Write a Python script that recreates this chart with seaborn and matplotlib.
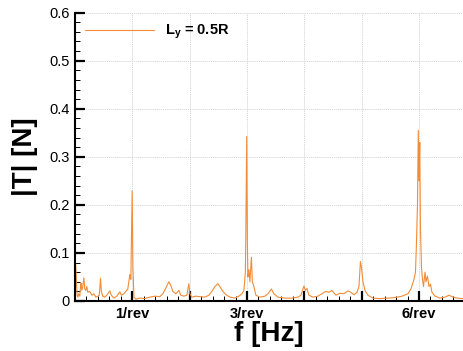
import numpy as np
import pandas as pd
import seaborn as sns
import matplotlib.pyplot as plt
from matplotlib.ticker import MultipleLocator, FixedLocator

# harmonic order (multiples of rotor frequency)
harmonicOrder = [
    0.000, 0.010, 0.023, 0.037, 0.049, 0.066, 0.084, 0.096, 0.106, 0.119,
    0.136, 0.154, 0.171, 0.188, 0.206, 0.223, 0.258, 0.293, 0.328, 0.363,
    0.398, 0.424, 0.445, 0.459, 0.485, 0.520, 0.555, 0.607, 0.634, 0.677,
    0.729, 0.782, 0.808, 0.852, 0.887, 0.921, 0.956, 0.974, 0.997, 1.010,
    1.028, 1.061, 1.131, 1.218, 1.305, 1.393, 1.480, 1.532, 1.585, 1.637,
    1.672, 1.707, 1.759, 1.812, 1.846, 1.899, 1.951, 1.986, 2.003, 2.038,
    2.108, 2.178, 2.265, 2.335, 2.387, 2.440, 2.492, 2.527, 2.579, 2.632,
    2.702, 2.789, 2.859, 2.911, 2.946, 2.972, 2.981, 2.995, 3.007, 3.016,
    3.033, 3.051, 3.077, 3.094, 3.120, 3.155, 3.225, 3.312, 3.365, 3.426,
    3.469, 3.539, 3.661, 3.784, 3.888, 3.941, 3.976, 3.993, 4.019, 4.045,
    4.080, 4.150, 4.237, 4.307, 4.377, 4.429, 4.482, 4.551, 4.621, 4.691,
    4.761, 4.813, 4.866, 4.918, 4.953, 4.979, 4.997, 5.023, 5.058, 5.110,
    5.197, 5.319, 5.442, 5.581, 5.703, 5.808, 5.860, 5.913, 5.939, 5.956,
    5.974, 5.988, 6.000, 6.014, 6.026, 6.044, 6.061, 6.079, 6.105, 6.122,
    6.148, 6.175, 6.201, 6.227, 6.279, 6.367, 6.454, 6.524, 6.576, 6.663,
    6.768,
]

thrustAmplitude = [
    0.075, 0.080, 0.045, 0.012, 0.008, 0.015, 0.010, 0.030, 0.037, 0.022,
    0.030, 0.048, 0.025, 0.022, 0.030, 0.018, 0.020, 0.012, 0.015, 0.008,
    0.010, 0.012, 0.047, 0.020, 0.010, 0.008, 0.012, 0.021, 0.012, 0.006,
    0.010, 0.019, 0.012, 0.015, 0.020, 0.025, 0.055, 0.045, 0.229, 0.070,
    0.008, 0.004, 0.006, 0.005, 0.008, 0.010, 0.009, 0.015, 0.027, 0.040,
    0.032, 0.020, 0.015, 0.022, 0.012, 0.010, 0.012, 0.036, 0.015, 0.008,
    0.010, 0.009, 0.008, 0.012, 0.020, 0.030, 0.036, 0.030, 0.020, 0.013,
    0.008, 0.006, 0.010, 0.015, 0.022, 0.060, 0.155, 0.342, 0.120, 0.050,
    0.065, 0.040, 0.091, 0.040, 0.030, 0.012, 0.008, 0.010, 0.015, 0.025,
    0.015, 0.008, 0.006, 0.006, 0.008, 0.012, 0.025, 0.031, 0.022, 0.026,
    0.012, 0.008, 0.010, 0.015, 0.020, 0.018, 0.022, 0.012, 0.016, 0.015,
    0.021, 0.018, 0.013, 0.018, 0.030, 0.082, 0.070, 0.040, 0.022, 0.012,
    0.006, 0.005, 0.006, 0.007, 0.010, 0.015, 0.025, 0.045, 0.060, 0.120,
    0.200, 0.355, 0.250, 0.330, 0.150, 0.070, 0.045, 0.030, 0.060, 0.040,
    0.052, 0.030, 0.035, 0.018, 0.010, 0.006, 0.008, 0.012, 0.009, 0.006,
    0.005,
]

tickPositions = [1, 2, 3, 4, 5, 6]
tickLabels = ["1/rev", "", "3/rev", "", "", "6/rev"]
yTickValues = [0, 0.1, 0.2, 0.3, 0.4, 0.5, 0.6]
yTickLabels = ["0", "0.1", "0.2", "0.3", "0.4", "0.5", "0.6"]
seriesName = r"L$_{\mathbf{y}}$ = 0.5R"

sns.set_theme(style = "white")
plt.rcParams["font.family"] = ["Liberation Sans", "DejaVu Sans"]
plt.rcParams["mathtext.fontset"] = "custom"
plt.rcParams["mathtext.rm"] = "Liberation Sans:bold"
plt.rcParams["mathtext.bf"] = "Liberation Sans:bold"
plt.rcParams["mathtext.it"] = "Liberation Sans:bold"
for colorKey in ["text.color", "axes.labelcolor", "xtick.color", "ytick.color"] :
    plt.rcParams[colorKey] = "black"

spectrumFrame = pd.DataFrame({
    "order" : harmonicOrder,
    "amp" : thrustAmplitude,
    "case" : seriesName,
})

fig = plt.figure(figsize = (4.63, 3.51), dpi = 100)
ax = fig.add_axes([0.162, 0.1425, 0.838, 0.8215])

sns.lineplot(
    data = spectrumFrame, x = "order", y = "amp", hue = "case",
    palette = ["#F28C38"], linewidth = 0.8, ax = ax, sort = False,
)

ax.set_xlim(0, 6.768)
ax.set_ylim(0, 0.6)

ax.xaxis.set_major_locator(FixedLocator(tickPositions))
ax.set_xticklabels(tickLabels, fontsize = 10.5, fontweight = "bold")
ax.xaxis.set_minor_locator(MultipleLocator(0.2))
ax.set_yticks(yTickValues)
ax.set_yticklabels(yTickLabels, fontsize = 10.5)
ax.yaxis.set_minor_locator(MultipleLocator(0.02))

ax.tick_params(axis = "both", which = "major", direction = "in", length = 7,
               width = 1.6, color = "black", labelcolor = "black", pad = 4)
ax.tick_params(axis = "both", which = "minor", direction = "in", length = 3.5,
               width = 0.7, color = "black")
ax.tick_params(axis = "x", which = "both", bottom = True, top = False)
ax.tick_params(axis = "y", which = "both", left = True, right = False)

ax.grid(True, which = "major", color = "#d2d2d2", linestyle = (0, (1.5, 1)),
        linewidth = 0.6)
ax.set_axisbelow(True)

for side in ["top", "right"] :
    ax.spines[side].set_visible(False)
for side in ["left", "bottom"] :
    ax.spines[side].set_color("black")
    ax.spines[side].set_linewidth(1.5)

ax.set_xlabel("f [Hz]", fontsize = 20, fontweight = "bold", labelpad = 0, color = "black")
ax.set_ylabel("|T| [N]", fontsize = 20, fontweight = "bold", labelpad = 8, color = "black")

ax.legend(loc = "upper left", frameon = False, handlelength = 4.7,
          prop = {"size" : 10.5, "weight" : "bold"},
          borderaxespad = 0.3, handletextpad = 0.8)

fig.savefig("out.png", dpi = 100)
